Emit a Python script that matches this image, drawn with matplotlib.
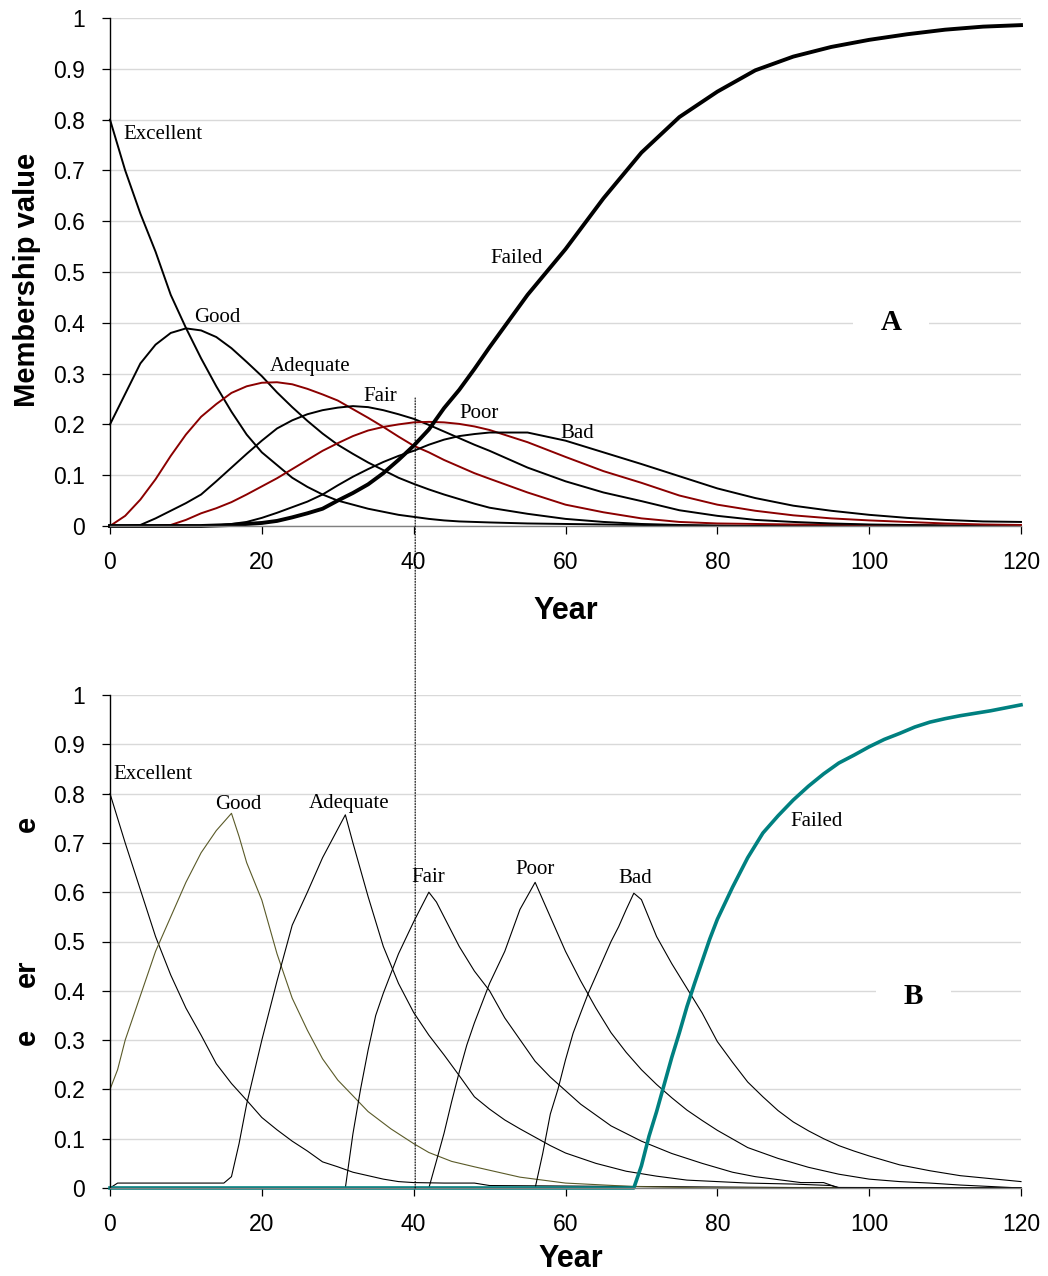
import matplotlib
matplotlib.use('Agg')
import matplotlib.pyplot as plt
from matplotlib.patches import ConnectionPatch

plt.rcParams['font.family'] = ['Liberation Sans', 'DejaVu Sans']

# ---- panel A : membership values on a common year grid ----
YEARS_A = [0, 2, 4, 6, 8, 10, 12, 14, 16, 18, 20, 22, 24, 26, 28, 30, 32, 34, 36, 38,
           40, 42, 44, 46, 48, 50, 55, 60, 65, 70, 75, 80, 85, 90, 95, 100, 105, 110, 115, 120]

A_EXCELLENT = [0.80, 0.70, 0.615, 0.54, 0.455, 0.39, 0.33, 0.275, 0.225, 0.18,
               0.145, 0.12, 0.095, 0.077, 0.062, 0.05, 0.042, 0.034, 0.028, 0.022,
               0.018, 0.014, 0.011, 0.009, 0.008, 0.007, 0.005, 0.004, 0.003, 0.002,
               0.001, 0, 0, 0, 0, 0, 0, 0, 0, 0]
A_GOOD = [0.20, 0.26, 0.32, 0.357, 0.38, 0.389, 0.385, 0.372, 0.35, 0.323,
          0.295, 0.263, 0.234, 0.207, 0.182, 0.16, 0.142, 0.125, 0.11, 0.095,
          0.083, 0.072, 0.062, 0.053, 0.044, 0.036, 0.024, 0.014, 0.008, 0.004,
          0.002, 0.001, 0, 0, 0, 0, 0, 0, 0, 0]
A_ADEQUATE = [0, 0.02, 0.052, 0.092, 0.138, 0.18, 0.215, 0.24, 0.262, 0.275,
              0.282, 0.283, 0.279, 0.27, 0.259, 0.247, 0.23, 0.213, 0.195, 0.176,
              0.158, 0.145, 0.13, 0.117, 0.104, 0.093, 0.066, 0.042, 0.027, 0.015,
              0.008, 0.005, 0.004, 0.003, 0.003, 0.002, 0.002, 0.001, 0.001, 0.001]
A_FAIR = [0, 0, 0.002, 0.015, 0.03, 0.045, 0.062, 0.088, 0.115, 0.142,
          0.168, 0.192, 0.208, 0.22, 0.228, 0.233, 0.236, 0.234, 0.228, 0.22,
          0.211, 0.199, 0.186, 0.173, 0.16, 0.148, 0.115, 0.088, 0.066, 0.049,
          0.031, 0.02, 0.012, 0.008, 0.005, 0.003, 0.002, 0.001, 0, 0]
A_POOR = [0, 0, 0, 0, 0.002, 0.012, 0.025, 0.035, 0.047, 0.062,
          0.078, 0.094, 0.112, 0.13, 0.148, 0.163, 0.177, 0.188, 0.195, 0.2,
          0.204, 0.205, 0.204, 0.201, 0.196, 0.189, 0.165, 0.136, 0.108, 0.085,
          0.06, 0.042, 0.03, 0.021, 0.015, 0.011, 0.008, 0.005, 0.003, 0.002]
A_BAD = [0, 0, 0, 0, 0, 0, 0, 0.001, 0.004, 0.008,
         0.016, 0.026, 0.037, 0.048, 0.062, 0.08, 0.097, 0.112, 0.126, 0.138,
         0.148, 0.16, 0.17, 0.177, 0.181, 0.184, 0.184, 0.168, 0.145, 0.122,
         0.098, 0.074, 0.055, 0.04, 0.03, 0.022, 0.016, 0.012, 0.009, 0.008]
A_FAILED = [0, 0, 0, 0, 0, 0, 0, 0.001, 0.002, 0.004,
            0.006, 0.01, 0.017, 0.025, 0.034, 0.05, 0.065, 0.082, 0.104, 0.13,
            0.158, 0.19, 0.232, 0.268, 0.309, 0.352, 0.455, 0.545, 0.645, 0.735,
            0.805, 0.855, 0.897, 0.924, 0.943, 0.957, 0.968, 0.977, 0.983, 0.986]

# ---- panel B : each state has its own sample years ----
B_EXC_YR = [0, 2, 4, 6, 8, 10, 12, 14, 16, 18, 20, 22, 24, 26, 28, 30, 32, 34, 36, 38,
            40, 44, 48, 50, 60, 70, 80, 90, 100, 110, 120]
B_EXC = [0.80, 0.70, 0.605, 0.51, 0.432, 0.365, 0.31, 0.252, 0.212, 0.178,
         0.143, 0.118, 0.095, 0.075, 0.053, 0.043, 0.032, 0.025, 0.018, 0.013,
         0.011, 0.01, 0.01, 0.005, 0.004, 0.003, 0.002, 0.001, 0.001, 0, 0]

B_GOOD_YR = [0, 1, 2, 4, 6, 8, 10, 12, 14, 16, 17, 18, 20, 22, 24, 26, 28, 30, 34, 37,
             40, 42, 45, 48, 54, 60, 69, 79, 120]
B_GOOD = [0.20, 0.24, 0.30, 0.39, 0.48, 0.55, 0.62, 0.68, 0.725, 0.76, 0.713, 0.66,
          0.584, 0.475, 0.385, 0.32, 0.262, 0.219, 0.155, 0.12, 0.09, 0.072, 0.054,
          0.043, 0.022, 0.01, 0.003, 0, 0]

B_ADQ_YR = [0, 1, 15, 16, 17, 18, 20, 22, 24, 26, 28, 31, 32, 34, 36, 38, 40, 42, 44, 46,
            48, 50, 52, 54, 56, 58, 60, 64, 68, 72, 76, 84, 90, 95, 96, 120]
B_ADQ = [0, 0.01, 0.01, 0.023, 0.09, 0.17, 0.30, 0.42, 0.533, 0.60, 0.67, 0.757,
         0.70, 0.591, 0.49, 0.415, 0.356, 0.31, 0.27, 0.228, 0.185, 0.16, 0.138,
         0.12, 0.103, 0.086, 0.071, 0.05, 0.034, 0.024, 0.016, 0.01, 0.008, 0.005,
         0.001, 0]

B_FAIR_YR = [0, 31, 32, 33, 34, 35, 36, 38, 40, 42, 43, 46, 48, 50, 52, 56, 58, 62, 66,
             70, 74, 78, 82, 85, 91, 94, 96, 120]
B_FAIR = [0, 0, 0.11, 0.2, 0.28, 0.35, 0.395, 0.475, 0.54, 0.60, 0.58, 0.49, 0.44,
          0.40, 0.345, 0.257, 0.225, 0.17, 0.126, 0.095, 0.07, 0.05, 0.032, 0.023,
          0.011, 0.011, 0, 0]

B_POOR_YR = [0, 42, 43, 44, 45, 46, 47, 48, 50, 52, 54, 56, 57, 58, 60, 62, 64, 66, 68,
             70, 72, 74, 76, 78, 80, 84, 88, 92, 96, 100, 104, 108, 112, 116, 120]
B_POOR = [0, 0, 0.055, 0.111, 0.175, 0.235, 0.29, 0.335, 0.415, 0.48, 0.565, 0.62,
          0.585, 0.55, 0.48, 0.42, 0.365, 0.315, 0.275, 0.24, 0.21, 0.183, 0.158,
          0.137, 0.117, 0.082, 0.06, 0.042, 0.028, 0.018, 0.013, 0.01, 0.006, 0.003, 0]

B_BAD_YR = [0, 56, 57, 58, 59, 60, 61, 62, 63, 64, 65, 66, 67, 68, 69, 70, 72, 74, 76,
            78, 80, 82, 84, 86, 88, 90, 92, 94, 96, 98, 100, 104, 108, 112, 116, 120]
B_BAD = [0, 0, 0.07, 0.15, 0.2, 0.26, 0.314, 0.355, 0.395, 0.43, 0.465, 0.5, 0.53,
         0.565, 0.598, 0.585, 0.51, 0.455, 0.405, 0.355, 0.297, 0.255, 0.215, 0.185,
         0.157, 0.134, 0.116, 0.1, 0.086, 0.075, 0.065, 0.047, 0.035, 0.025, 0.019, 0.013]

B_FAIL_YR = [0, 69, 70, 71, 72, 73, 74, 75, 76, 77, 78, 79, 80, 82, 84, 86, 88, 90, 92,
             94, 96, 98, 100, 102, 104, 106, 108, 110, 112, 114, 116, 118, 120]
B_FAIL = [0, 0, 0.045, 0.105, 0.155, 0.21, 0.265, 0.315, 0.368, 0.415, 0.46, 0.505,
          0.545, 0.61, 0.67, 0.72, 0.755, 0.787, 0.815, 0.84, 0.862, 0.878, 0.895,
          0.91, 0.922, 0.935, 0.945, 0.952, 0.958, 0.963, 0.968, 0.974, 0.98]

XTICKS = [0, 20, 40, 60, 80, 100, 120]
YTICKS = [0, 0.1, 0.2, 0.3, 0.4, 0.5, 0.6, 0.7, 0.8, 0.9, 1.0]
YTICK_LABELS = ['0', '0.1', '0.2', '0.3', '0.4', '0.5', '0.6', '0.7', '0.8', '0.9', '1']

# curve labels: (text, year, value, ha)
LABELS_A = [('Excellent', 1.7, 0.77, 'left'), ('Good', 14.2, 0.411, 'center'),
            ('Adequate', 26.3, 0.313, 'center'), ('Fair', 35.6, 0.254, 'center'),
            ('Poor', 48.6, 0.222, 'center'), ('Bad', 61.5, 0.183, 'center'),
            ('Failed', 53.6, 0.526, 'center')]
LABELS_B = [('Excellent', 0.4, 0.838, 'left'), ('Good', 16.9, 0.777, 'center'),
            ('Adequate', 31.5, 0.78, 'center'), ('Fair', 41.9, 0.63, 'center'),
            ('Poor', 56.0, 0.647, 'center'), ('Bad', 69.2, 0.627, 'center'),
            ('Failed', 93.1, 0.744, 'center')]

MARK_YEAR = 40.2
MARK_TOP = 0.252

RED = '#8b0000'
OLIVE = '#5a5a28'
TEAL = '#008080'


def style_axes(ax):
    ax.set_xlim(0, 120)
    ax.set_ylim(0, 1)
    ax.set_xticks(XTICKS)
    ax.set_yticks(YTICKS)
    ax.set_yticklabels(YTICK_LABELS)
    ax.spines['top'].set_visible(False)
    ax.spines['right'].set_visible(False)
    ax.spines['left'].set_color('black')
    ax.spines['left'].set_linewidth(1.0)
    ax.spines['bottom'].set_color('#808080')
    ax.spines['bottom'].set_linewidth(1.0)
    ax.tick_params(axis='both', direction='out', length=6, width=0.9, labelsize=16.5, pad=12)
    ax.grid(axis='y', color='#d9d9d9', linewidth=1.0)
    ax.set_axisbelow(True)


fig = plt.figure(figsize=(10.48, 12.76), dpi=100)
ax1 = fig.add_axes([110 / 1048, 1 - 526 / 1276, 911 / 1048, 508 / 1276])
ax2 = fig.add_axes([110 / 1048, 1 - 1188 / 1276, 911 / 1048, 493 / 1276])
style_axes(ax1)
style_axes(ax2)

# panel A
ax1.plot(YEARS_A, A_EXCELLENT, color='black', lw=1.4, clip_on=False)
ax1.plot(YEARS_A, A_GOOD, color='black', lw=1.4, clip_on=False)
ax1.plot(YEARS_A, A_ADEQUATE, color=RED, lw=1.4, clip_on=False)
ax1.plot(YEARS_A, A_FAIR, color='black', lw=1.4, clip_on=False)
ax1.plot(YEARS_A, A_POOR, color=RED, lw=1.4, clip_on=False)
ax1.plot(YEARS_A, A_BAD, color='black', lw=1.4, clip_on=False)
ax1.plot(YEARS_A, A_FAILED, color='black', lw=2.8, clip_on=False)

for txt, x, y, ha in LABELS_A:
    ax1.text(x, y, txt, ha=ha, va='center', fontsize=15, family='Liberation Serif')
ax1.text(102.9, 0.40, 'A', ha='center', va='center', fontsize=21, fontweight='bold',
         family='Liberation Serif',
         bbox=dict(boxstyle='square,pad=0.95', fc='white', ec='none'))

ax1.set_xlabel('Year', fontsize=22, fontweight='bold', va='center')
ax1.xaxis.set_label_coords(0.5005, -(611 - 526) / 508)
ax1.set_ylabel('Membership value', fontsize=21, fontweight='bold', va='center')
ax1.yaxis.set_label_coords(-(110 - 27) / 911, (526 - 280) / 508)

# panel B
ax2.plot(B_EXC_YR, B_EXC, color='black', lw=0.8, clip_on=False)
ax2.plot(B_GOOD_YR, B_GOOD, color=OLIVE, lw=0.8, clip_on=False)
ax2.plot(B_ADQ_YR, B_ADQ, color='black', lw=0.8, clip_on=False)
ax2.plot(B_FAIR_YR, B_FAIR, color='black', lw=0.8, clip_on=False)
ax2.plot(B_POOR_YR, B_POOR, color='black', lw=0.8, clip_on=False)
ax2.plot(B_BAD_YR, B_BAD, color='black', lw=0.8, clip_on=False)
ax2.plot(B_FAIL_YR, B_FAIL, color=TEAL, lw=2.6, clip_on=False)

for txt, x, y, ha in LABELS_B:
    ax2.text(x, y, txt, ha=ha, va='center', fontsize=15, family='Liberation Serif')
ax2.text(105.8, 0.389, 'B', ha='center', va='center', fontsize=21, fontweight='bold',
         family='Liberation Serif',
         bbox=dict(boxstyle='square,pad=0.95', fc='white', ec='none'))

ax2.set_xlabel('Year', fontsize=22, fontweight='bold', va='center')
ax2.xaxis.set_label_coords((571 - 110) / 911, -(1259 - 1188) / 493)

# fragments of the clipped y label of panel B
for frag, py in [('e', 824), ('er', 973), ('e', 1037)]:
    ax2.text(-(110 - 27) / 911, (1188 - py) / 493, frag, transform=ax2.transAxes,
             rotation=90, ha='center', va='center', fontsize=21, fontweight='bold')

# dotted marker linking both panels
con = ConnectionPatch(xyA=(MARK_YEAR, MARK_TOP), coordsA=ax1.transData,
                      xyB=(MARK_YEAR, 0), coordsB=ax2.transData,
                      linestyle=(0, (1, 1.5)), linewidth=0.8, color='black')
fig.add_artist(con)

fig.savefig('out.png', dpi=100)
